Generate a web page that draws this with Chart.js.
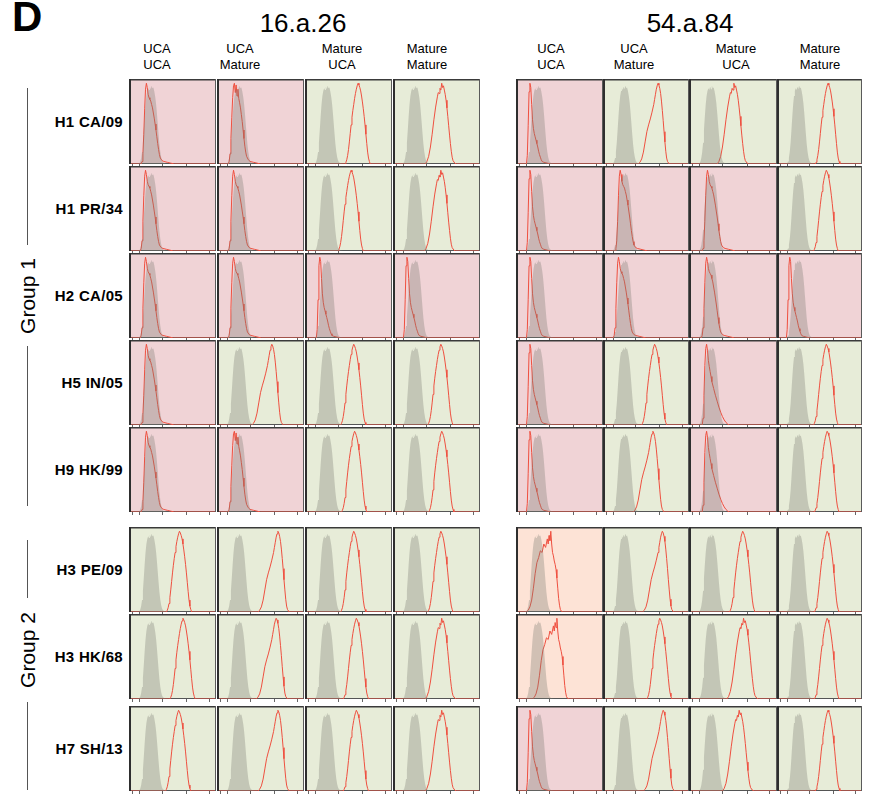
<!DOCTYPE html>
<html><head><meta charset="utf-8">
<script src="https://cdn.jsdelivr.net/npm/chart.js@4.4.1/dist/chart.umd.min.js"></script>
<style>
body{margin:0;background:#fff;}
#fig{position:relative;width:869px;height:794px;overflow:hidden;font-family:"Liberation Sans",Arial,sans-serif;color:#000;background:#fff;}
.t{position:absolute;white-space:nowrap;line-height:1;}
canvas{position:absolute;}
.vline{position:absolute;width:1px;background:#555;}
</style></head><body><div id="fig"></div>
<script>
// ---------------- data ----------------
const panelLetter = 'D';
const antibodies = ['16.a.26', '54.a.84'];
const heavyChain = ['UCA', 'UCA', 'Mature', 'Mature'];
const lightChain = ['UCA', 'Mature', 'UCA', 'Mature'];
const strains = ['H1 CA/09', 'H1 PR/34', 'H2 CA/05', 'H5 IN/05', 'H9 HK/99', 'H3 PE/09', 'H3 HK/68', 'H7 SH/13'];
const groups = ['Group 1', 'Group 2'];
const tickMarks = [4, 12, 38, 66, 92];

// control (grey, filled) histogram: [fluorescence bin, % of max]
const controlHist = [[10,0],[12,1],[13,3],[14,7],[15,14],[16,25],[17,40],[18,56],[19,70],[20,80],[21,86],[22,89],[23,87],[24,91],[25,88],[26,92],[27,89],[28,90],[29,86],[30,80],[31,72],[32,61],[33,48],[34,35],[35,23],[36,14],[37,8],[38,4],[39,2],[41,1],[44,0]];

// sample (red) histogram shapes: [bin offset from peak, % of max]
const negTail = [[-6,0],[-5,3],[-4,12],[-3,35],[-2,65],[-1,88],[0,95],[1,90],[2,82],[3,78],[4,76],[5,74],[6,70],[7,66],[8,60],[9,54],[10,47],[11,40],[12,32],[13,24],[14,17],[15,11],[16,7],[18,4],[20,3],[24,2],[28,1],[32,0]];
const negRough = [[-7,0],[-6,3],[-5,12],[-4,30],[-3,55],[-2,78],[-1,92],[0,95],[1,84],[2,93],[3,80],[4,88],[5,77],[6,72],[7,66],[8,58],[9,50],[10,40],[11,30],[12,21],[13,14],[14,9],[16,5],[18,3],[22,2],[26,1],[30,0]];
const negNarrow = [[-4,0],[-3,10],[-2,45],[-1,85],[0,95],[1,90],[2,70],[3,52],[4,42],[5,36],[6,32],[7,28],[8,24],[9,20],[10,15],[11,11],[12,8],[13,5],[14,3],[16,2],[20,1],[24,0]];
const negLongTail = [[-5,0],[-4,8],[-3,35],[-2,70],[-1,90],[0,95],[1,88],[2,76],[3,69],[4,63],[5,57],[6,51],[8,43],[10,35],[12,28],[14,21],[16,15],[18,10],[20,6],[22,3],[24,1],[26,0]];
const posBell = [[-15,0],[-14,2],[-13,5],[-12,10],[-11,17],[-10,26],[-9,36],[-8,46],[-7,55],[-6,63],[-5,70],[-4,77],[-3,83],[-2,88],[-1,92],[0,95],[1,93],[2,90],[3,86],[4,80],[5,73],[6,65],[7,56],[8,46],[9,35],[10,24],[11,14],[12,7],[13,3],[14,0]];
const posShoulder = [[-23,0],[-21,2],[-19,6],[-17,14],[-15,26],[-13,38],[-11,46],[-9,53],[-7,61],[-5,70],[-4,76],[-3,82],[-2,88],[-1,92],[0,95],[1,93],[2,89],[3,83],[4,74],[5,63],[6,51],[7,38],[8,26],[9,15],[10,7],[11,3],[13,0]];
const posWide = [[-19,0],[-17,3],[-15,9],[-13,20],[-11,35],[-9,52],[-7,67],[-5,79],[-4,84],[-3,83],[-2,89],[-1,87],[0,95],[1,90],[2,92],[3,87],[4,82],[5,75],[6,66],[7,56],[8,45],[9,34],[10,24],[11,15],[12,8],[13,4],[15,1],[17,0]];
const broadPartial = [[-28,0],[-26,2],[-24,6],[-22,14],[-20,28],[-18,45],[-16,58],[-14,64],[-12,72],[-10,70],[-8,80],[-6,76],[-4,86],[-3,80],[-2,90],[-1,84],[0,95],[1,80],[2,70],[3,66],[4,60],[5,56],[6,50],[7,40],[8,28],[9,16],[10,8],[11,3],[12,1],[14,0]];

// per-cell outcome: N = no binding, P = binding, W = weak binding
const outcome16 = [['N','N','P','P'],['N','N','P','P'],['N','N','N','N'],['N','P','P','P'],['N','N','P','P'],['P','P','P','P'],['P','P','P','P'],['P','P','P','P']];
const shape16 = [['negTail','negRough','posBell','posWide'],['negTail','negTail','posBell','posWide'],['negTail','negTail','negNarrow','negNarrow'],['negTail','posShoulder','posBell','posBell'],['negTail','negRough','posBell','posBell'],['posBell','posShoulder','posBell','posBell'],['posBell','posShoulder','posBell','posWide'],['posBell','posShoulder','posBell','posWide']];
const peak16 = [[20,20,61,56],[19,19,53,55],[19,19,17,16],[20,63,56,55],[20,20,57,56],[58,70,56,55],[62,68,59,56],[57,70,59,56]];
const outcome54 = [['N','P','P','P'],['N','N','N','P'],['N','N','N','N'],['N','P','N','P'],['N','P','N','P'],['W','P','P','P'],['W','P','P','P'],['N','P','P','P']];
const shape54 = [['negNarrow','posShoulder','posWide','posBell'],['negNarrow','negTail','negTail','posBell'],['negNarrow','negTail','negTail','negNarrow'],['negNarrow','posBell','negLongTail','posBell'],['negNarrow','posShoulder','negLongTail','posBell'],['broadPartial','posShoulder','posBell','posBell'],['broadPartial','posBell','posWide','posBell'],['negNarrow','posShoulder','posWide','posBell']];
const peak54 = [[16,64,51,60],[16,20,21,58],[16,18,20,15],[16,60,20,58],[16,58,20,59],[40,69,61,59],[47,66,62,59],[16,70,57,60]];

// ---------------- layout & style ----------------
const shapeLib = {negTail, negRough, negNarrow, negLongTail, posBell, posShoulder, posWide, broadPartial};
const bgColor = {N: '#f0d3d6', P: '#e7ecd8', W: '#fde3d6'};
const colX = [[129,217,305,393],[516,603,689,777]];
const colW = [[87,87,87,87],[87,86,88,85]];
const rowY = [79,166,253,340,427,527,614,706];
const cellH = 85;
const headX = [303, 690];
const subX = [[157,240,342,427],[551,634,736,820]];
const groupCenter = [296, 650];
const groupLines = [[[88,245],[346,506]], [[540,598],[702,790]]];

const fig = document.getElementById('fig');
function addText(txt, css) {
  const d = document.createElement('div');
  d.className = 't';
  d.textContent = txt;
  Object.assign(d.style, css);
  fig.appendChild(d);
  return d;
}

addText(panelLetter, {left:'12px', top:'-4px', fontSize:'42px', fontWeight:'bold'});
antibodies.forEach((ab, b) => {
  addText(ab, {left: headX[b]+'px', top:'10px', fontSize:'26px', transform:'translateX(-50%)'});
  for (let c = 0; c < 4; c++) {
    addText(heavyChain[c], {left: subX[b][c]+'px', top:'42px', fontSize:'13px', transform:'translateX(-50%)'});
    addText(lightChain[c], {left: subX[b][c]+'px', top:'58px', fontSize:'13px', transform:'translateX(-50%)'});
  }
});
strains.forEach((s, r) => {
  const base = rowY[r] + cellH/2 + 5.5;
  addText(s, {left:'0px', width:'123px', textAlign:'right', top:(base - 12.7)+'px', fontSize:'15px', fontWeight:'bold', letterSpacing:'0.3px'});
});
groups.forEach((g, i) => {
  addText(g, {left:'27px', top: groupCenter[i]+'px', fontSize:'21px', transform:'translate(-50%,-50%) rotate(-90deg)'});
  groupLines[i].forEach(([y0, y1]) => {
    const l = document.createElement('div');
    l.className = 'vline';
    Object.assign(l.style, {left:'27px', top:y0+'px', height:(y1-y0)+'px'});
    fig.appendChild(l);
  });
});

const cellPlugin = {
  id: 'cell',
  beforeDraw(chart, args, opts) {
    const {ctx, chartArea: a} = chart;
    ctx.save();
    ctx.fillStyle = opts.bg;
    ctx.fillRect(a.left, a.top, a.right - a.left, a.bottom - a.top);
    ctx.restore();
  },
  beforeDatasetsDraw(chart) {
    const {ctx, chartArea: a} = chart;
    ctx.save();
    ctx.fillStyle = '#555';
    ctx.fillRect(a.left, a.bottom - 1, a.right - a.left, 1);
    ctx.restore();
  },
  afterDatasetsDraw(chart) {
    const {ctx, chartArea: a} = chart;
    ctx.save();
    ctx.fillStyle = '#3a3a3a';
    ctx.fillRect(a.left, a.top, a.right - a.left, 1.5);
    ctx.fillStyle = '#2e2e2e';
    ctx.fillRect(a.left, a.top, 2, a.bottom - a.top);
    ctx.fillStyle = '#5a5a5a';
    ctx.fillRect(a.right - 1, a.top, 1, a.bottom - a.top);
    ctx.restore();
  }
};

function histPoints(arr, center) {
  return [{x:0, y:0}].concat(arr.map(([o, h]) => ({x: center + o, y: h})), [{x:100, y:0}]);
}

const blocks = [[outcome16, shape16, peak16], [outcome54, shape54, peak54]];
blocks.forEach(([outc, shp, pk], b) => {
  for (let r = 0; r < 8; r++) {
    for (let c = 0; c < 4; c++) {
      const cv = document.createElement('canvas');
      const w = colW[b][c], h = cellH + 3;
      cv.width = w; cv.height = h;
      cv.style.left = colX[b][c] + 'px';
      cv.style.top = rowY[r] + 'px';
      cv.style.width = w + 'px'; cv.style.height = h + 'px';
      fig.appendChild(cv);
      new Chart(cv, {
        type: 'line',
        data: {
          datasets: [
            {data: histPoints(controlHist, 0), fill: 'origin', backgroundColor: 'rgba(120,120,112,0.33)', borderWidth: 0, pointRadius: 0, tension: 0},
            {data: histPoints(shapeLib[shp[r][c]], pk[r][c]), fill: false, borderColor: '#ef5040', borderWidth: 1, pointRadius: 0, tension: 0}
          ]
        },
        options: {
          responsive: false, animation: false, devicePixelRatio: 1,
          layout: {padding: 0},
          plugins: {legend: {display: false}, tooltip: {enabled: false}, cell: {bg: bgColor[outc[r][c]]}},
          scales: {
            x: {type: 'linear', min: 0, max: 100, display: true,
                afterBuildTicks: s => { s.ticks = tickMarks.map(v => ({value: v})); },
                ticks: {display: false},
                grid: {drawOnChartArea: false, drawTicks: true, tickLength: 3, color: '#666', lineWidth: 1},
                border: {display: false}},
            y: {min: 0, max: 100, display: false}
          },
          events: []
        },
        plugins: [cellPlugin]
      });
    }
  }
});
</script></body></html>
